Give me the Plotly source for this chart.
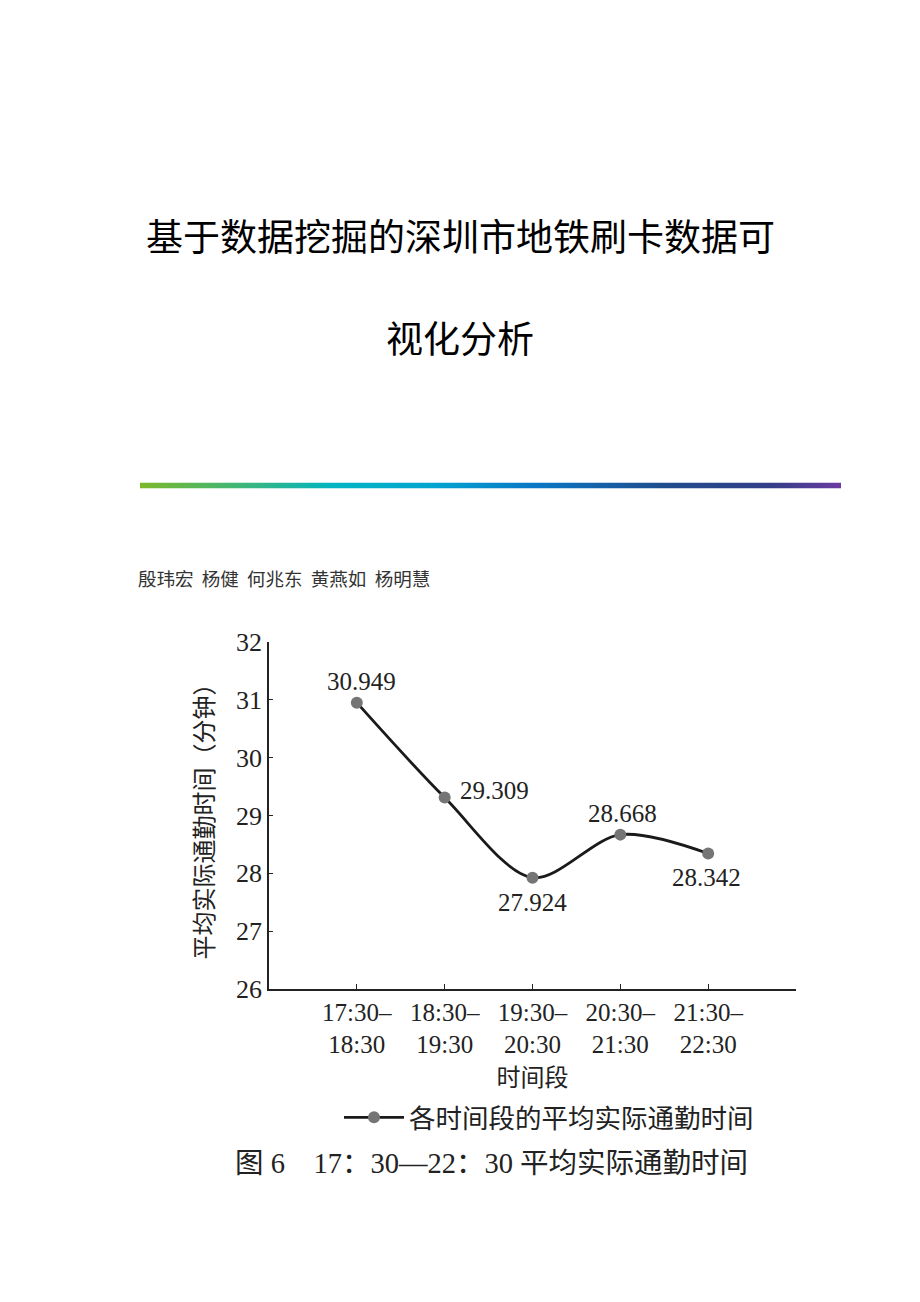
import plotly.graph_objects as go

# 数据
periods = ["17:30–<br>18:30", "18:30–<br>19:30", "19:30–<br>20:30", "20:30–<br>21:30", "21:30–<br>22:30"]
avg_minutes = [30.949, 29.309, 27.924, 28.668, 28.342]
y_ticks = [26, 27, 28, 29, 30, 31, 32]

# 数值标签相对数据点的偏移（像素）
label_shift = [(5, 21), (50, 7), (0, -25), (2, 21), (-2, -24)]

W, H = 920, 1302
SERIF = "Liberation Serif, Noto Sans CJK SC, serif"
CJK = "Noto Sans CJK SC, sans-serif"


def px_x(v):
    return v / W


def px_y(v):
    return 1 - v / H


fig = go.Figure()

fig.add_trace(go.Scatter(
    x=list(range(len(periods))),
    y=avg_minutes,
    mode="lines+markers",
    line=dict(color="#1a1a1a", width=2.8, shape="spline", smoothing=0.9),
    marker=dict(color="#757575", size=12),
    name="各时间段的平均实际通勤时间",
))

# 标题下方的渐变色条
fig.add_trace(go.Heatmap(
    z=[[0, 1]], x=[0, 1], y=[0],
    xaxis="x2", yaxis="y2",
    zsmooth="best", showscale=False, hoverinfo="skip",
    colorscale=[[0, "#7cb82a"], [0.28, "#00b4c4"], [0.42, "#00a4d0"],
                [0.56, "#0a78c6"], [0.75, "#1f4c8c"], [0.9, "#333e88"], [1, "#6c3aa2"]],
    showlegend=False,
))

fig.update_layout(
    width=W, height=H,
    margin=dict(l=0, r=0, t=0, b=0),
    paper_bgcolor="white", plot_bgcolor="white",
    font=dict(family=SERIF, color="#222"),
    xaxis=dict(
        domain=[px_x(261), px_x(788)],
        range=[-1, 5],
        tickmode="array", tickvals=list(range(len(periods))), ticktext=periods,
        tickfont=dict(family=SERIF, size=25, color="#222"),
        ticks="inside", ticklen=5, tickcolor="#222",
        showline=True, linecolor="#222", linewidth=1.5,
        showgrid=False, zeroline=False,
        title=dict(text="时间段", font=dict(family=CJK, size=24, color="#222"), standoff=8),
    ),
    yaxis=dict(
        domain=[px_y(989), px_y(634)],
        range=[26, 32],
        tickmode="array", tickvals=y_ticks,
        tickfont=dict(family=SERIF, size=26, color="#222"),
        ticks="inside", ticklen=4, tickcolor="#222",
        showline=True, linecolor="#222", linewidth=1.5,
        showgrid=False, zeroline=False,
        title=dict(text="平均实际通勤时间（分钟）", font=dict(family=CJK, size=24, color="#222"), standoff=16),
    ),
    xaxis2=dict(domain=[px_x(132), px_x(833)], range=[0, 1], visible=False, anchor="y2"),
    yaxis2=dict(domain=[px_y(477), px_y(471)], range=[-0.5, 0.5], visible=False, anchor="x2"),
    showlegend=True,
    legend=dict(
        orientation="h", x=px_x(331), y=px_y(1096), xanchor="left", yanchor="top",
        font=dict(family=CJK, size=26.5, color="#222"), itemwidth=60,
        bgcolor="rgba(0,0,0,0)",
    ),
)

# 数据点数值标签
for i, v in enumerate(avg_minutes):
    dx, dy = label_shift[i]
    fig.add_annotation(x=i, y=v, xref="x", yref="y", text=f"{v:.3f}", showarrow=False,
                       xshift=dx, yshift=dy, font=dict(family=SERIF, size=25, color="#222"))

annotations = [
    dict(text="基于数据挖掘的深圳市地铁刷卡数据可", x=px_x(452), y=px_y(218),
         font=dict(family=CJK, size=37, color="#000")),
    dict(text="视化分析", x=px_x(452), y=px_y(322),
         font=dict(family=CJK, size=37, color="#000")),
    dict(text="殷玮宏  杨健  何兆东  黄燕如  杨明慧", x=px_x(128), y=px_y(569), xanchor="left",
         font=dict(family=CJK, size=18.5, color="#333")),
    dict(text="图 6　17：30—22：30 平均实际通勤时间", x=px_x(225), y=px_y(1167), xanchor="left",
         font=dict(family=SERIF, size=28.5, color="#222")),
]
for a in annotations:
    a.setdefault("xanchor", "center")
    fig.add_annotation(xref="paper", yref="paper", showarrow=False, yanchor="middle", **a)

fig.write_html("out.html")
